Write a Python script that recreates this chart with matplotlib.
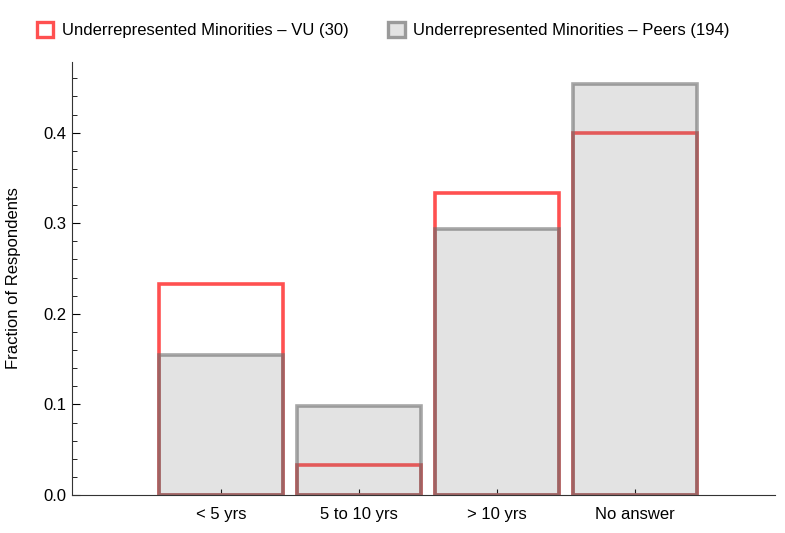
import matplotlib
matplotlib.use('Agg')
import matplotlib.pyplot as plt
from matplotlib.patches import Patch

categories = ['< 5 yrs', '5 to 10 yrs', '> 10 yrs', 'No answer']
vu_counts = [7, 1, 10, 12]          # of 30
peer_counts = [30, 19, 57, 88]      # of 194
vu_n = 30
peer_n = 194
vu_label = 'Underrepresented Minorities \u2013 VU (30)'
peer_label = 'Underrepresented Minorities \u2013 Peers (194)'

vu_frac = [c / vu_n for c in vu_counts]
peer_frac = [c / peer_n for c in peer_counts]

plt.rcParams['font.family'] = ['Liberation Sans', 'DejaVu Sans']

RED = '#ff5050'
FS = 12
fig = plt.figure(figsize=(7.85, 5.33), dpi=100)
ax = fig.add_axes([0.0917, 0.0713, 0.8953, 0.8124])

x = list(range(1, len(categories) + 1))
ax.bar(x, vu_frac, width=0.9, facecolor='none', edgecolor=RED, linewidth=2.6, zorder=2)
ax.bar(x, peer_frac, width=0.9, facecolor=(0.5, 0.5, 0.5, 0.22),
       edgecolor=(0.42, 0.42, 0.42, 0.6), linewidth=2.6, zorder=3)

ax.set_xlim(-0.08, 5.01)
ax.set_ylim(0, 0.478)
ax.set_xticks(x)
ax.set_xticklabels(categories, fontsize=FS)
ax.set_yticks([0.0, 0.1, 0.2, 0.3, 0.4])
ax.set_yticklabels(['0.0', '0.1', '0.2', '0.3', '0.4'], fontsize=FS)
ax.set_yticks([i * 0.02 for i in range(24)], minor=True)
ax.tick_params(axis='y', which='major', direction='in', length=6, width=0.8, pad=4)
ax.tick_params(axis='y', which='minor', direction='in', length=3.5, width=0.6)
ax.tick_params(axis='x', which='major', direction='in', length=4, width=0.8, pad=9)
ax.set_ylabel('Fraction of Respondents', fontsize=FS, labelpad=16)
for s in ('top', 'right'):
    ax.spines[s].set_visible(False)
for s in ('left', 'bottom'):
    ax.spines[s].set_linewidth(0.8)
    ax.spines[s].set_color('#333333')

handles = [Patch(facecolor='white', edgecolor=RED, linewidth=2.4, label=vu_label),
           Patch(facecolor='#e3e3e3', edgecolor='#9a9a9a', linewidth=2.4, label=peer_label)]
fig.legend(handles=handles, loc='center left', bbox_to_anchor=(0.036, 0.944), ncol=2,
           frameon=False, fontsize=FS, handlelength=1.0, handleheight=1.0, borderpad=0,
           handletextpad=0.5, columnspacing=2.4)

fig.savefig('out.png', dpi=100)
